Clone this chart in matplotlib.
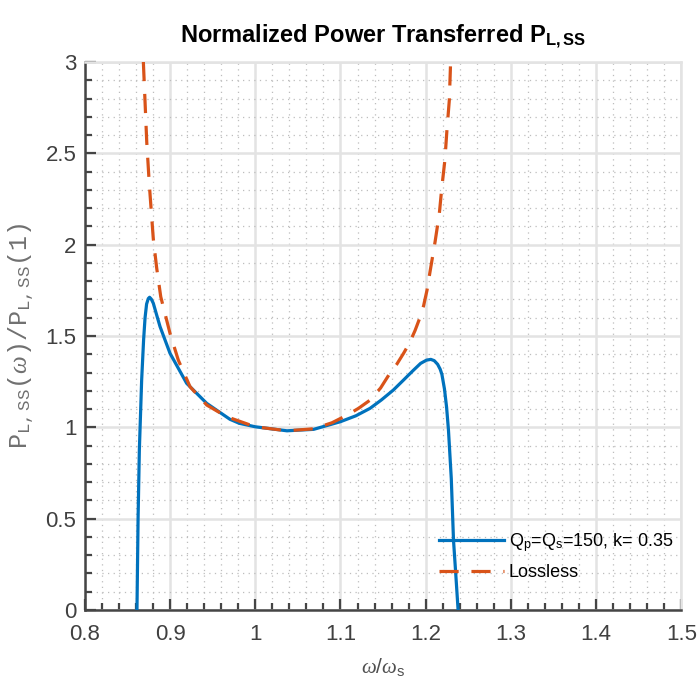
import matplotlib
matplotlib.use("Agg")
import matplotlib.pyplot as plt
from matplotlib.ticker import MultipleLocator
from matplotlib.lines import Line2D

# ---- data ----
blue_x = [0.8612, 0.8625, 0.8640, 0.8667, 0.8690, 0.8707, 0.8725, 0.8745, 0.8760,
          0.8780, 0.8804, 0.8840, 0.8883, 0.9000, 0.9195, 0.9431, 0.9703, 0.9813,
          1.0000, 1.0372, 1.0685, 1.1000, 1.1180, 1.1347, 1.1480, 1.1620, 1.1740,
          1.1850, 1.1940, 1.2010, 1.2060, 1.2100, 1.2140, 1.2170, 1.2190, 1.2220,
          1.2245, 1.2267, 1.2300, 1.2326, 1.2355, 1.2380]
blue_y = [0.000, 0.500, 0.876, 1.259, 1.480, 1.600, 1.675, 1.705, 1.712,
          1.702, 1.679, 1.620, 1.551, 1.405, 1.241, 1.131, 1.044, 1.022,
          1.003, 0.981, 0.989, 1.031, 1.063, 1.104, 1.150, 1.204, 1.259,
          1.310, 1.350, 1.368, 1.372, 1.365, 1.345, 1.318, 1.290, 1.210,
          1.110, 0.985, 0.720, 0.383, 0.180, 0.000]

orange_x = [0.8687, 0.8707, 0.8727, 0.8757, 0.8785, 0.8804, 0.8844, 0.8891, 0.9000,
            0.9097, 0.9235, 0.9431, 0.9665, 1.0000, 1.0372, 1.0685, 1.0900, 1.1078,
            1.1215, 1.1347, 1.1470, 1.1580, 1.1660, 1.1740, 1.1810, 1.1875, 1.1930,
            1.1975, 1.2015, 1.2050, 1.2110, 1.2160, 1.2190, 1.2225, 1.2249, 1.2277,
            1.2289, 1.2295]
orange_y = [3.000, 2.780, 2.560, 2.330, 2.150, 2.030, 1.870, 1.715, 1.514,
            1.368, 1.222, 1.122, 1.058, 1.003, 0.981, 0.992, 1.025, 1.067,
            1.105, 1.149, 1.215, 1.296, 1.345, 1.405, 1.462, 1.530, 1.598,
            1.665, 1.750, 1.850, 2.016, 2.171, 2.317, 2.463, 2.627, 2.791,
            2.956, 3.050]

series_labels = [r'Q$_\mathregular{p}$=Q$_\mathregular{s}$=150, k= 0.35', 'Lossless']
title_text = r'Normalized Power Transferred P$_\mathbf{L,SS}$'
xlabel_text = r'$\omega$/$\omega_\mathregular{s}$'
ylabel_text = (r'$\mathtt{P}_\mathtt{L,SS}\mathtt{(}\omega\mathtt{)/P}'
               r'_\mathtt{L,SS}\mathtt{(1)}$')
x_ticks = [0.8, 0.9, 1.0, 1.1, 1.2, 1.3, 1.4, 1.5]
x_tick_labels = ['0.8', '0.9', '1', '1.1', '1.2', '1.3', '1.4', '1.5']
y_ticks = [0, 0.5, 1, 1.5, 2, 2.5, 3]
y_tick_labels = ['0', '0.5', '1', '1.5', '2', '2.5', '3']

plt.rcParams['font.family'] = ['Liberation Sans', 'DejaVu Sans']
plt.rcParams['mathtext.fontset'] = 'custom'
plt.rcParams['mathtext.rm'] = 'Liberation Sans'
plt.rcParams['mathtext.bf'] = 'Liberation Sans:bold'
plt.rcParams['mathtext.it'] = 'Liberation Serif:italic'
plt.rcParams['mathtext.tt'] = 'Liberation Mono'

fig = plt.figure(figsize=(6.98, 6.95), dpi=100)
ax = fig.add_axes([0.1215, 0.1223, 0.8547, 0.7885])

ax.set_xlim(0.8, 1.5)
ax.set_ylim(0, 3)

ax.plot(blue_x, blue_y, color='#0072BD', lw=2.3, zorder=3,
        solid_joinstyle='round')
ax.plot(orange_x, orange_y, color='#D95319', lw=2.3, dashes=(6, 4), zorder=3)

ax.set_xticks(x_ticks)
ax.set_xticklabels(x_tick_labels)
ax.set_yticks(y_ticks)
ax.set_yticklabels(y_tick_labels)
ax.xaxis.set_minor_locator(MultipleLocator(0.02))
ax.yaxis.set_minor_locator(MultipleLocator(0.1))

ax.grid(which='major', color='#e3e3e3', lw=1.8, ls='-', zorder=0)
ax.grid(which='minor', color='#bdbdbd', lw=0.9, ls=(0, (1, 3.5)), zorder=0)
ax.set_axisbelow(True)

for s in ['left', 'bottom']:
    ax.spines[s].set_color('#454545')
    ax.spines[s].set_linewidth(1.8)
for s in ['top', 'right']:
    ax.spines[s].set_color('#e3e3e3')
    ax.spines[s].set_linewidth(1.8)

ax.tick_params(which='major', direction='in', length=8, width=1.6, color='#454545',
               labelsize=16, labelcolor='#404040', pad=6)
ax.tick_params(which='minor', direction='in', length=5, width=1.6, color='#454545')
ax.tick_params(axis='x', pad=10)

ax.set_title(title_text, fontsize=17, fontweight='bold', pad=14)
ax.set_xlabel(xlabel_text, fontsize=15, color='#505050', labelpad=8)
ax.set_ylabel(ylabel_text, fontsize=18, color='#707070', labelpad=7)

handles = [Line2D([], [], color='#0072BD', lw=2.3),
           Line2D([], [], color='#D95319', lw=2.3, dashes=(6, 4))]
ax.legend(handles, series_labels, loc='lower left', bbox_to_anchor=(0.582, 0.04),
          frameon=False, fontsize=13, handlelength=3.6, handletextpad=0.25,
          labelspacing=0.55, borderaxespad=0)

fig.savefig('out.png', dpi=100)
